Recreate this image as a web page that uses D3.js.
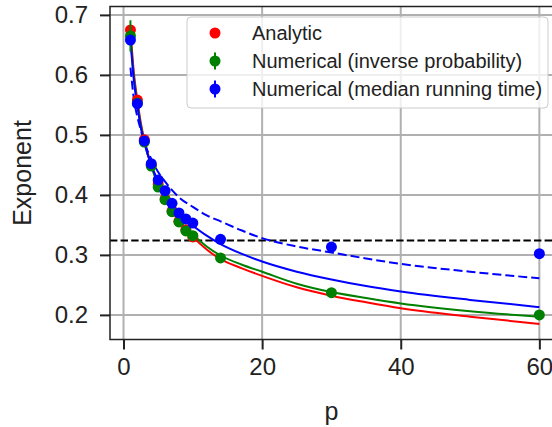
<!DOCTYPE html>
<html>
<head>
<meta charset="UTF-8">
<title>Exponent vs p</title>
<script src="https://cdnjs.cloudflare.com/ajax/libs/d3/7.8.5/d3.min.js"></script>
<style>
  body { margin: 0; background: #fff; }
  svg { display: block; font-family: "Liberation Sans", Arial, sans-serif; }
</style>
</head>
<body>
<div id="chart"></div>
<script>
// measured points
const analyticP = [1, 2, 3, 4, 5, 6, 7, 8, 9, 10];
const analyticPts = [0.675, 0.558, 0.492, 0.450, 0.418, 0.393, 0.373, 0.356, 0.342, 0.330];
const pPoints = [1, 2, 3, 4, 5, 6, 7, 8, 9, 10, 14, 30, 60];
const invProbPts = [0.665, 0.553, 0.488, 0.448, 0.413, 0.392, 0.372, 0.355, 0.340, 0.332, 0.295, 0.237, 0.200];
const invProbErr = [0.026, 0.006, 0.005, 0.005, 0.005, 0.005, 0.005, 0.005, 0.005, 0.005, 0.005, 0.005, 0.006];
const medianPts = [0.658, 0.552, 0.490, 0.452, 0.425, 0.407, 0.386, 0.370, 0.360, 0.353, 0.326, 0.313, 0.302];
const medianErr = [0.008, 0.006, 0.005, 0.005, 0.005, 0.005, 0.005, 0.005, 0.005, 0.005, 0.005, 0.005, 0.006];

// curves
const pCurve = [1, 1.5, 2, 2.5, 3, 4, 5, 6, 7, 8, 10, 12, 14, 17, 20, 25, 30, 35, 40, 50, 60];
const analyticCurve = [0.675, 0.603, 0.558, 0.520, 0.492, 0.450, 0.418, 0.393, 0.373, 0.356, 0.330, 0.309, 0.293, 0.278, 0.265, 0.246, 0.232, 0.221, 0.211, 0.197, 0.185];
const invProbCurve = [0.665, 0.596, 0.553, 0.516, 0.489, 0.448, 0.417, 0.393, 0.374, 0.358, 0.334, 0.314, 0.299, 0.284, 0.272, 0.252, 0.238, 0.228, 0.219, 0.206, 0.197];
const medianCurve = [0.658, 0.590, 0.548, 0.512, 0.487, 0.450, 0.423, 0.403, 0.386, 0.371, 0.349, 0.332, 0.318, 0.302, 0.289, 0.272, 0.259, 0.248, 0.239, 0.225, 0.213];
const medianDashCurve = [0.612, 0.560, 0.530, 0.508, 0.488, 0.460, 0.438, 0.422, 0.408, 0.396, 0.380, 0.366, 0.356, 0.341, 0.328, 0.314, 0.304, 0.294, 0.285, 0.272, 0.261];

const refLevel = 0.324;

const xTicks = [0, 20, 40, 60];
const yTicks = [0.2, 0.3, 0.4, 0.5, 0.6, 0.7];
const legendLabels = ["Analytic", "Numerical (inverse probability)", "Numerical (median running time)"];
const colors = ["#ff0000", "#008000", "#0000ff"];

const W = 552, H = 427;
const mLeft = 110, mTop = 6.5, mBottom = 339.5, mRight = 559.8;

const svg = d3.select("#chart").append("svg")
  .attr("width", W).attr("height", H);

const x = d3.scaleLinear().domain([-1.95, 62.95]).range([mLeft, mRight]);
const y = d3.scaleLinear().domain([0.159, 0.714]).range([mBottom, mTop]);

const plot = svg.append("g");

// grid
plot.selectAll(".gx").data(xTicks).enter().append("line")
  .attr("x1", d => x(d)).attr("x2", d => x(d))
  .attr("y1", mTop).attr("y2", mBottom)
  .attr("stroke", "#b0b0b0").attr("stroke-width", 2);
plot.selectAll(".gy").data(yTicks).enter().append("line")
  .attr("x1", mLeft).attr("x2", mRight)
  .attr("y1", d => y(d)).attr("y2", d => y(d))
  .attr("stroke", "#b0b0b0").attr("stroke-width", 2);

// reference line
plot.append("line")
  .attr("x1", mLeft).attr("x2", mRight)
  .attr("y1", y(refLevel)).attr("y2", y(refLevel))
  .attr("stroke", "#000").attr("stroke-width", 2)
  .attr("stroke-dasharray", "7.4,3.2");

const line = d3.line().x(d => x(d[0])).y(d => y(d[1])).curve(d3.curveMonotoneX);
const curves = [
  { v: analyticCurve, c: colors[0], dash: null },
  { v: invProbCurve, c: colors[1], dash: null },
  { v: medianCurve, c: colors[2], dash: null },
  { v: medianDashCurve, c: colors[2], dash: "9,4" }
];
curves.forEach(cv => {
  plot.append("path")
    .attr("d", line(pCurve.map((p, i) => [p, cv.v[i]])))
    .attr("fill", "none")
    .attr("stroke", cv.c)
    .attr("stroke-width", 2)
    .attr("stroke-dasharray", cv.dash);
});

// points
const r = 5.5;
function drawPoints(ps, vals, errs, color) {
  const g = plot.append("g");
  if (errs) {
    g.selectAll("line").data(ps).enter().append("line")
      .attr("x1", d => x(d)).attr("x2", d => x(d))
      .attr("y1", (d, i) => y(vals[i] - errs[i]))
      .attr("y2", (d, i) => y(vals[i] + errs[i]))
      .attr("stroke", color).attr("stroke-width", 2);
  }
  g.selectAll("circle").data(ps).enter().append("circle")
    .attr("cx", d => x(d))
    .attr("cy", (d, i) => y(vals[i]))
    .attr("r", r)
    .attr("fill", color);
}
drawPoints(analyticP, analyticPts, null, colors[0]);
drawPoints(pPoints, invProbPts, invProbErr, colors[1]);
drawPoints(pPoints, medianPts, medianErr, colors[2]);

// spines
svg.append("rect")
  .attr("x", mLeft).attr("y", mTop)
  .attr("width", mRight - mLeft).attr("height", mBottom - mTop)
  .attr("fill", "none").attr("stroke", "#222").attr("stroke-width", 1.5);

// axes
const xAxis = svg.append("g")
  .attr("transform", `translate(0,${mBottom})`)
  .call(d3.axisBottom(x).tickValues(xTicks).tickSize(10).tickPadding(8).tickFormat(d3.format("d")));
const yAxis = svg.append("g")
  .attr("transform", `translate(${mLeft},0)`)
  .call(d3.axisLeft(y).tickValues(yTicks).tickSize(10).tickPadding(12).tickFormat(d3.format(".1f")));
[xAxis, yAxis].forEach(a => {
  a.select(".domain").remove();
  a.selectAll(".tick line").attr("stroke", "#222").attr("stroke-width", 2);
  a.selectAll(".tick text").attr("fill", "#222")
    .style("font-size", "24px")
    .style("font-family", "'Liberation Sans', Arial, sans-serif");
});

svg.append("text")
  .attr("x", x(30)).attr("y", 420)
  .attr("text-anchor", "middle")
  .style("font-size", "25px").attr("fill", "#222")
  .text("p");
svg.append("text")
  .attr("transform", `translate(31,${(mTop + mBottom) / 2}) rotate(-90)`)
  .attr("text-anchor", "middle")
  .style("font-size", "25px").attr("fill", "#222")
  .text("Exponent");

// legend
const lg = svg.append("g");
lg.append("rect")
  .attr("x", 187).attr("y", 17).attr("width", 361).attr("height", 91)
  .attr("rx", 4).attr("fill", "#fff").attr("fill-opacity", 0.8)
  .attr("stroke", "#cccccc").attr("stroke-width", 1);
legendLabels.forEach((t, i) => {
  const ly = 33 + i * 28;
  if (i > 0) {
    lg.append("line")
      .attr("x1", 215).attr("x2", 215)
      .attr("y1", ly - 8.5).attr("y2", ly + 8.5)
      .attr("stroke", colors[i]).attr("stroke-width", 2);
  }
  lg.append("circle").attr("cx", 215).attr("cy", ly).attr("r", r).attr("fill", colors[i]);
  lg.append("text")
    .attr("x", 252).attr("y", ly + 7)
    .style("font-size", "20px").attr("fill", "#222")
    .text(t);
});
</script>
</body>
</html>
